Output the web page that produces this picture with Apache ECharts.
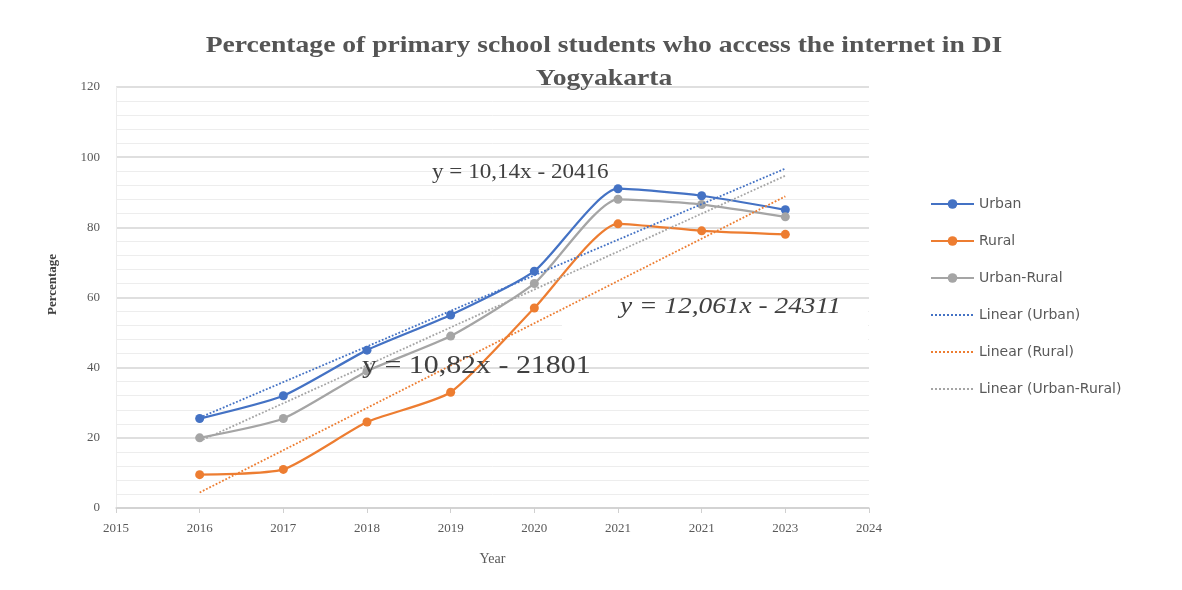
<!DOCTYPE html>
<html>
<head>
<meta charset="utf-8">
<script src="https://cdn.jsdelivr.net/npm/echarts@6/dist/echarts.min.js"></script>
<style>html,body{margin:0;padding:0;background:#fff}#c{width:1182px;height:590px}</style>
</head>
<body>
<div id="c"></div>
<script>
const titleLines = ['Percentage of primary school students who access the internet in DI', 'Yogyakarta'];
const years = [2016, 2017, 2018, 2019, 2020, 2021, 2022, 2023];
const xTickLabels = ['2015', '2016', '2017', '2018', '2019', '2020', '2021', '2021', '2023', '2024'];
const urban = [25.5, 32, 45, 55, 67.5, 91, 89, 85];
const rural = [9.5, 11, 24.5, 33, 57, 81, 79, 78];
const urbanRural = [20, 25.5, 39, 49, 64, 88, 86.5, 83];
const seriesNames = ['Urban', 'Rural', 'Urban-Rural'];
const trendNames = ['Linear (Urban)', 'Linear (Rural)', 'Linear (Urban-Rural)'];
const equations = ['y = 10,14x - 20416', 'y = 12,061x - 24311', 'y = 10,82x - 21801'];

const colors = ['#4472C4', '#ED7D31', '#A5A5A5'];

function fit(xs, ys) {
  const n = xs.length;
  const mx = xs.reduce((a, b) => a + b, 0) / n;
  const my = ys.reduce((a, b) => a + b, 0) / n;
  let sxy = 0, sxx = 0;
  for (let i = 0; i < n; i++) { sxy += (xs[i] - mx) * (ys[i] - my); sxx += (xs[i] - mx) ** 2; }
  const b = sxy / sxx, a = my - b * mx;
  const x0 = xs[0], x1 = xs[n - 1];
  return [[x0, a + b * x0], [x1, a + b * x1]];
}
const pairs = arr => years.map((y, i) => [y, arr[i]]);
const all = [urban, rural, urbanRural];

const series = [];
all.forEach((arr, i) => {
  series.push({
    name: seriesNames[i], type: 'line', data: pairs(arr), smooth: 0.2,
    symbol: 'circle', symbolSize: 9,
    lineStyle: { color: colors[i], width: 2.25 },
    itemStyle: { color: colors[i] }, z: 3
  });
});
all.forEach((arr, i) => {
  series.push({
    name: trendNames[i], type: 'line', data: fit(years, arr), symbol: 'none',
    lineStyle: { color: colors[i], width: 1.8, type: 'dotted' },
    itemStyle: { color: colors[i] }, z: 4, silent: true
  });
});

const legendData = seriesNames.map(n => ({ name: n }))
  .concat(trendNames.map(n => ({ name: n, itemStyle: { opacity: 0 } })));

const serif = 'Liberation Serif';
const chart = echarts.init(document.getElementById('c'), null, { renderer: 'canvas' });
chart.setOption({
  backgroundColor: '#fff',
  animation: false,
  grid: { left: 116, right: 313, top: 87, bottom: 82 },
  legend: {
    orient: 'vertical', left: 925, top: 192, itemWidth: 43, itemHeight: 12, itemGap: 23,
    textStyle: { fontFamily: 'DejaVu Sans', fontSize: 14, color: '#595959' },
    data: legendData
  },
  xAxis: {
    type: 'value', min: 2015, max: 2024, interval: 1,
    name: 'Year', nameLocation: 'middle', nameGap: 44,
    nameTextStyle: { fontFamily: serif, fontSize: 14, color: '#595959' },
    axisLine: { show: true, lineStyle: { color: '#d0d0d0', width: 1.5 } },
    axisTick: { show: true, length: 5, lineStyle: { color: '#d0d0d0' } },
    axisLabel: { margin: 14, fontFamily: serif, fontSize: 13, color: '#595959',
      formatter: v => xTickLabels[Math.round(v - 2015)] },
    splitLine: { show: false }
  },
  yAxis: {
    type: 'value', min: 0, max: 120, interval: 20,
    name: 'Percentage', nameLocation: 'middle', nameGap: 57,
    nameTextStyle: { fontFamily: serif, fontWeight: 'bold', fontSize: 13, color: '#404040', padding: [0, 0, 0, 26] },
    axisLine: { show: true, lineStyle: { color: '#ececec', width: 1 } },
    axisTick: { show: false },
    axisLabel: { margin: 16, fontFamily: serif, fontSize: 13, color: '#595959' },
    splitLine: { show: true, lineStyle: { color: '#d4d4d4', width: 1.5 } },
    minorTick: { show: false, splitNumber: 5 },
    minorSplitLine: { show: true, lineStyle: { color: '#ededed', width: 1 } }
  },
  graphic: [
    { type: 'text', x: 604, y: 46, scaleX: 1.15, z: 10,
      style: { text: titleLines[0], align: 'center', verticalAlign: 'middle', fontFamily: serif, fontWeight: 'bold', fontSize: 24, fill: '#555555' } },
    { type: 'text', x: 604, y: 79, scaleX: 1.15, z: 10,
      style: { text: titleLines[1], align: 'center', verticalAlign: 'middle', fontFamily: serif, fontWeight: 'bold', fontSize: 24, fill: '#555555' } },
    { type: 'text', x: 432, y: 172, scaleX: 1.1, z: 10,
      style: { text: equations[0], verticalAlign: 'middle', fontFamily: serif, fontSize: 21, fill: '#404040' } },
    { type: 'rect', x: 562, y: 302, z: 1, shape: { width: 306, height: 40 }, style: { fill: '#fff' } },
    { type: 'text', x: 620, y: 307, scaleX: 1.14, z: 10,
      style: { text: equations[1], verticalAlign: 'middle', fontFamily: serif, fontStyle: 'italic', fontSize: 24, fill: '#404040' } },
    { type: 'text', x: 362, y: 366, scaleX: 1.15, z: 10,
      style: { text: equations[2], verticalAlign: 'middle', fontFamily: serif, fontSize: 26, fill: '#404040' } }
  ],
  series: series
});
</script>
</body>
</html>
